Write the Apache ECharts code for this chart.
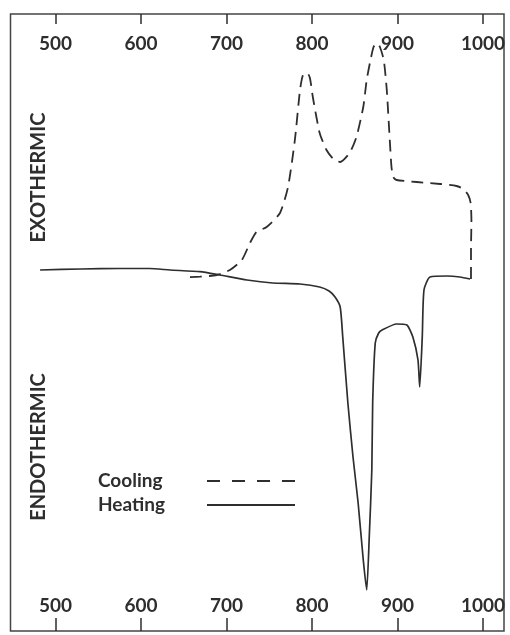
<!DOCTYPE html>
<html><head><meta charset="utf-8">
<script src="https://cdn.jsdelivr.net/npm/echarts@6/dist/echarts.min.js"></script>
<style>html,body{margin:0;padding:0;background:#fff}#c{width:510px;height:635px}</style>
</head><body><div id="c"></div>
<script>
// Temperature tick labels (°C)
const tickValues = [500, 600, 700, 800, 900, 1000];

// Heating curve: temperature and differential signal (arbitrary units, + = exothermic)
const heatingT  = [482, 530, 575, 610, 634, 669, 692, 724, 754, 786, 809, 820, 827, 833, 836, 842, 848, 854, 860, 864, 867, 870, 871, 874, 878, 882, 899, 911, 918, 924, 926, 929, 931, 938, 958, 973, 985];
const heatingDT = [0, 0.1, 0.15, 0.15, 0, -0.17, -0.5, -1.0, -1.3, -1.4, -1.7, -2.1, -2.7, -3.7, -6.7, -13.3, -18.7, -23.3, -29, -32, -26.7, -20, -13.3, -7.3, -6.3, -6.0, -5.4, -5.5, -6.7, -9.0, -11.7, -6.7, -2.0, -0.7, -0.6, -0.7, -0.9];

// Cooling curve (recorded from high to low temperature)
const coolingT  = [986, 986, 986.5, 985.6, 982.7, 977, 969, 950, 922.5, 899, 895, 893, 891, 887.5, 884, 879.5, 876, 872, 868, 864, 860, 852, 844, 833, 825, 817, 809, 801, 797.6, 794.5, 789.5, 786, 780, 772, 762.6, 747, 735, 727.5, 718, 704, 688.6, 669, 649.5];
const coolingDT = [-0.9, 2.0, 5.0, 6.7, 7.5, 8.1, 8.4, 8.6, 8.8, 9.0, 9.3, 10.3, 13.0, 18.0, 21.0, 22.3, 22.7, 22.3, 20.8, 19.0, 16.3, 13.3, 11.7, 10.8, 11.1, 12.0, 13.7, 17.3, 19.2, 19.7, 19.5, 18.0, 13.0, 8.3, 5.7, 4.3, 3.8, 2.7, 1.0, 0.0, -0.5, -0.67, -0.73];

const seriesNames = ['Cooling', 'Heating'];
const sideLabels = ['EXOTHERMIC', 'ENDOTHERMIC'];

const chart = echarts.init(document.getElementById('c'), null, {renderer: 'canvas'});
const pair = (xs, ys) => xs.map((x, i) => [x, ys[i]]);
const ink = '#2e2e2e';
const font = 'Lato, "DejaVu Sans", sans-serif';
const xCommon = {type: 'value', min: 447.4, max: 1024.6, splitLine: {show: false}, axisLine: {show: false, onZero: false}};
const labelCommon = {inside: true, customValues: tickValues, color: ink, fontSize: 19, fontWeight: 'bold', fontFamily: font, formatter: v => String(v)};

const option = {
  animation: false,
  backgroundColor: '#fff',
  grid: {left: 10.5, right: 6, top: 14, bottom: 4, show: true, borderColor: '#444', borderWidth: 1.5},
  xAxis: [
    Object.assign({}, xCommon, {
      position: 'bottom',
      axisTick: {show: true, inside: true, length: 13, customValues: tickValues, lineStyle: {color: ink, width: 1.5}},
      axisLabel: Object.assign({}, labelCommon, {margin: 16})
    }),
    Object.assign({}, xCommon, {
      position: 'top',
      axisTick: {show: true, inside: true, length: 10, customValues: tickValues, lineStyle: {color: ink, width: 1.5}},
      axisLabel: Object.assign({}, labelCommon, {margin: 20})
    })
  ],
  yAxis: {type: 'value', min: -36.1, max: 25.6, show: false},
  legend: {
    orient: 'vertical', left: 93, top: 466, align: 'right',
    itemWidth: 88, itemHeight: 20, itemGap: 4,
    itemStyle: {opacity: 0, color: 'transparent', borderWidth: 0},
    formatter: '{a|{name}}',
    textStyle: {color: ink, fontSize: 19, fontWeight: 'bold', fontFamily: font, lineHeight: 20,
      rich: {a: {width: 104, align: 'left', color: ink, fontSize: 19, fontWeight: 'bold', fontFamily: font}}},
    data: [
      {name: seriesNames[0], lineStyle: {type: [13, 12]}},
      {name: seriesNames[1]}
    ]
  },
  series: [
    {name: seriesNames[0], type: 'line', xAxisIndex: 0, data: pair(coolingT, coolingDT), symbol: 'none',
     itemStyle: {color: ink}, lineStyle: {color: ink, width: 1.8, type: [12, 7]}, smooth: 0.2},
    {name: seriesNames[1], type: 'line', xAxisIndex: 0, data: pair(heatingT, heatingDT), symbol: 'none',
     itemStyle: {color: ink}, lineStyle: {color: ink, width: 1.7}, smooth: 0.2}
  ],
  graphic: [
    {type: 'text', x: 39, y: 177.5, rotation: Math.PI / 2,
     style: {text: sideLabels[0], fill: ink, fontSize: 20, fontWeight: 'bold', fontFamily: font, align: 'center', verticalAlign: 'middle'}},
    {type: 'text', x: 39, y: 447, rotation: Math.PI / 2,
     style: {text: sideLabels[1], fill: ink, fontSize: 20, fontWeight: 'bold', fontFamily: font, align: 'center', verticalAlign: 'middle'}}
  ]
};
chart.setOption(option);
</script>
</body></html>
